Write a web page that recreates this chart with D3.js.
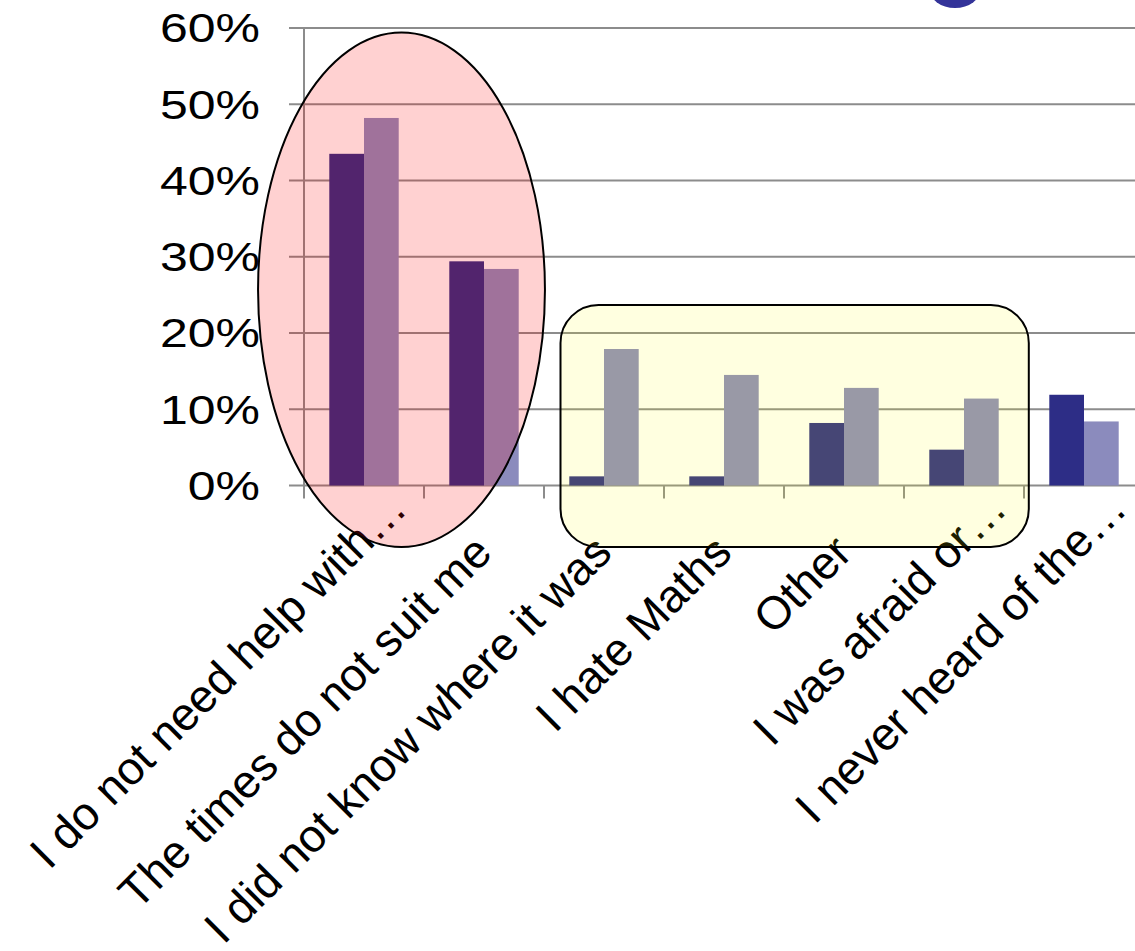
<!DOCTYPE html>
<html>
<head>
<meta charset="utf-8">
<script src="https://cdn.jsdelivr.net/npm/d3@7"></script>
<style>
  html, body { margin: 0; padding: 0; background: #ffffff; }
  svg { display: block; font-family: "Liberation Sans", Arial, sans-serif; }
</style>
</head>
<body>
<svg id="chart" width="1135" height="951"></svg>
<script>
// Reasons given for not using the support service (share of respondents)
const categories = [
  "I do not need help with…",
  "The times do not suit me",
  "I did not know where it was",
  "I hate Maths",
  "Other",
  "I was afraid or…",
  "I never heard of the…"
];
const seriesNames = ["first", "second"];
const seriesFirst  = [0.435, 0.294, 0.012, 0.012, 0.082, 0.047, 0.119];
const seriesSecond = [0.482, 0.284, 0.179, 0.145, 0.128, 0.114, 0.084];
const yTicks = [0, 0.1, 0.2, 0.3, 0.4, 0.5, 0.6];
const yTickLabels = ["0%", "10%", "20%", "30%", "40%", "50%", "60%"];

// Highlight shapes, in category-band units (x) and value units (y)
const highlightEllipse = { x0: -0.383, x1: 2.008, y0: -0.0807, y1: 0.594 };
const highlightBox = { x0: 2.1375, x1: 6.04, y0: -0.0807, y1: 0.2367, r: 38 };

const colors = { first: "#2d2d86", second: "#8b8bbd" };

const svg = d3.select("#chart");
const W = 1135;

const x = d3.scaleBand().domain(categories).range([304, 1144]).paddingInner(0).paddingOuter(0);
const xBands = d3.scaleLinear().domain([0, categories.length]).range(x.range());
const x1 = d3.scaleBand().domain(seriesNames).range([0, x.bandwidth()]).paddingOuter(0.729).paddingInner(0);
const y = d3.scaleLinear().domain([0, 0.6]).range([485.5, 28]);

const rows = categories.map((c, i) => ({ cat: c, first: seriesFirst[i], second: seriesSecond[i] }));

// Horizontal gridlines with short outward ticks
svg.append("g").selectAll("line").data(yTicks).join("line")
  .attr("x1", 289).attr("x2", W)
  .attr("y1", d => y(d)).attr("y2", d => y(d))
  .attr("stroke", "#8c8c8c").attr("stroke-width", 2);

// Vertical value axis line
svg.append("line")
  .attr("x1", 304).attr("x2", 304).attr("y1", y(0.6)).attr("y2", y(0))
  .attr("stroke", "#8c8c8c").attr("stroke-width", 2);

// Category tick marks at band boundaries
svg.append("g").selectAll("line").data(categories).join("line")
  .attr("x1", d => x(d)).attr("x2", d => x(d))
  .attr("y1", y(0)).attr("y2", y(0) + 13)
  .attr("stroke", "#8c8c8c").attr("stroke-width", 2);

// Value labels
svg.append("g").selectAll("text").data(yTicks).join("text")
  .attr("transform", d => `translate(260,${y(d)}) scale(1.25,1)`)
  .attr("text-anchor", "end").attr("dy", "0.36em")
  .attr("font-size", 40).attr("fill", "#000")
  .text((d, i) => yTickLabels[i]);

// Bars
const groups = svg.append("g").selectAll("g").data(rows).join("g")
  .attr("transform", d => `translate(${x(d.cat)},0)`);
groups.selectAll("rect").data(d => seriesNames.map(k => ({ key: k, value: d[k] }))).join("rect")
  .attr("x", d => x1(d.key))
  .attr("width", x1.bandwidth())
  .attr("y", d => y(d.value))
  .attr("height", d => y(0) - y(d.value))
  .attr("fill", d => colors[d.key]);

// Rotated category labels; truncated ones sit further along the diagonal
svg.append("g").selectAll("text").data(categories).join("text")
  .attr("transform", d => {
    const c = x(d) + x.bandwidth() / 2;
    return d.endsWith("…")
      ? `translate(${c + 45},511) rotate(-45)`
      : `translate(${c + 10},555) rotate(-45)`;
  })
  .attr("text-anchor", "end")
  .attr("font-size", 46).attr("fill", "#000")
  .text(d => d);

// Descender of the slide title running in from above
svg.append("ellipse")
  .attr("cx", 955).attr("cy", -12).attr("rx", 26).attr("ry", 20)
  .attr("fill", "#333399");

// Translucent highlight ellipse around the two leading reasons
const ex0 = xBands(highlightEllipse.x0), ex1 = xBands(highlightEllipse.x1);
const ey0 = y(highlightEllipse.y1), ey1 = y(highlightEllipse.y0);
svg.append("ellipse")
  .attr("cx", (ex0 + ex1) / 2).attr("cy", (ey0 + ey1) / 2)
  .attr("rx", (ex1 - ex0) / 2).attr("ry", (ey1 - ey0) / 2)
  .attr("fill", "rgba(255,0,0,0.18)")
  .attr("stroke", "#000").attr("stroke-width", 2);

// Translucent rounded box around the middle group
const bx0 = xBands(highlightBox.x0), bx1 = xBands(highlightBox.x1);
const by0 = y(highlightBox.y1), by1 = y(highlightBox.y0);
svg.append("rect")
  .attr("x", bx0).attr("y", by0)
  .attr("width", bx1 - bx0).attr("height", by1 - by0)
  .attr("rx", highlightBox.r).attr("ry", highlightBox.r)
  .attr("fill", "rgba(255,255,0,0.12)")
  .attr("stroke", "#000").attr("stroke-width", 2);
</script>
</body>
</html>
